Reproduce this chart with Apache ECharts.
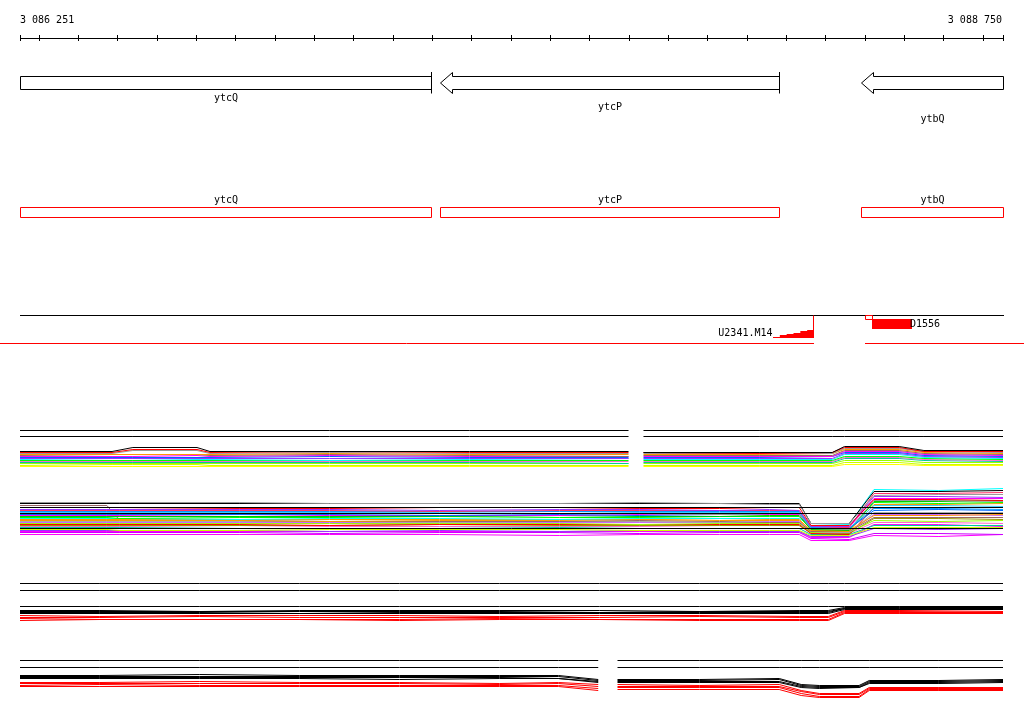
<!DOCTYPE html>
<html><head><meta charset="utf-8">
<script src="https://cdn.jsdelivr.net/npm/echarts@6/dist/echarts.min.js"></script>
<style>html,body{margin:0;padding:0;background:#fff}#c{width:1024px;height:714px}</style>
</head><body><div id="c"></div>
<script>
// ---------- genomic window ----------
const X_MIN = 3086251, X_MAX = 3088750;
const tickValues = [3086251,3086300,3086400,3086500,3086600,3086700,3086800,3086900,3087000,3087100,3087200,3087300,3087400,3087500,3087600,3087700,3087800,3087900,3088000,3088100,3088200,3088300,3088400,3088500,3088600,3088700,3088750];
const endLabels = [3086251, 3088750];

// ---------- genes (minus strand) ----------
const geneNames = ['ytcQ','ytcP','ytbQ'];
const geneStart = [3085400, 3087320, 3088390];
const geneEnd   = [3087298, 3088182, 3089300];
const geneLabelRow = [0, 1, 2];

// ---------- features ----------
const featNames = ['U2341.M14','D1556'];
const featStart = [3088166, 3088400];
const featEnd   = [3088268, 3088519];
const featType  = ['ramp','block'];
const sepStart = [3086200, 3088400];
const sepEnd   = [3088268, 3088802];

// ---------- track A (gap at index 8) ----------
const A_x = [3086251,3086485,3086538,3086701,3086734,3087038,3087394,3087798,3087815,3087836,3088130,3088316,3088347,3088486,3088549,3088750];
const A_ref = [40, 34];
const A_black  = [19,19,23,23,19,19,19,19,null,18,18,18,24,24,20,20];
const A_red    = [18,18,21,21,18,19,18,18,null,18,17,18,23,23,19,19];
const A_gray   = [17,17,20,20,17,18,17,17,null,17,17,17,22,22,19,18];
const A_orange = [16,16,16,16,16,17,16,16,null,16,16,17,21,21,18,17];
const A_brown  = [15,16,16,16,15,16,15,14,null,15,15,15,20,20,17,16];
const A_magenta= [14,14,14,15,14,15,14,14,null,14,14,14,19,19,16,15];
const A_blue   = [13,13,13,13,13,14,13,13,null,13,13,14,18,18,15,14];
const A_purple = [12,12,12,12,12,12,12,12,null,12,12,12,17,17,14,13];
const A_cyan   = [11,12,12,11,11,10,11,12,null,11,11,11,16,16,13,12];
const A_green  = [10,10,10,10,10,10,10,10,null,10,10,10,14,14,12,11];
const A_pink   = [9,9,9,9,9,9,9,9,null,9,9,9,13,13,11,10];
const A_teal   = [8,8,8,8,8,8,8,7,null,8,8,8,12,12,10,9];
const A_lime   = [7,7,7,7,7,7,7,7,null,7,7,7,10,10,8,8];
const A_ygreen = [5,6,6,6,5,5,5,5,null,5,5,5,8,8,6,6];
const A_yellow = [4,4,4,4,4,4,4,4,null,4,4,4,6,6,5,5];

// ---------- track B ----------
const B_x = [3086251,3086472,3086505,3086810,3087038,3087318,3087622,3087825,3088029,3088156,3088232,3088262,3088359,3088422,3088587,3088750];
const B_ref = [38, 32, 17];
const B_gray    = [43,43,43,43,42,42,42,43,42,41,41,22,22,50,51,51];
const B_black   = [42,42,42,42,42,42,42,42,42,42,42,22,22,54,54,55];
const B_red     = [38,38,38,37,37,38,38,37,37,38,38,20,20,46,46,45];
const B_purple  = [36,36,36,36,36,35,36,36,35,36,35,19,19,49,49,48];
const B_rose    = [35,35,35,35,35,34,35,35,35,35,35,19,18,52,52,53];
const B_blue2   = [34,34,34,34,34,34,34,34,34,34,34,18,17,37,37,36];
const B_ltblue  = [33,33,33,33,33,33,32,33,33,33,33,18,17,40,40,39];
const B_gray3   = [32,32,32,32,32,32,32,32,31,32,32,17,16,45,45,44];
const B_blue    = [31,31,31,31,31,30,31,30,31,32,32,17,17,35,36,35];
const B_magenta = [30,30,30,31,30,30,30,31,32,31,31,18,18,47,47,47];
const B_green2  = [29,29,29,29,29,29,30,29,29,30,30,16,15,44,44,45];
const B_green   = [28,28,27,28,28,29,28,28,29,29,29,16,16,43,42,43];
const B_cyan    = [27,27,27,26,27,27,26,27,27,27,27,20,21,56,55,57];
const B_orange2 = [26,26,26,26,26,26,26,26,27,26,26,15,14,41,41,42];
const B_orange  = [25,25,25,25,24,25,25,26,25,25,25,15,15,30,30,31];
const B_brown   = [40,40,25,25,24,24,24,25,24,23,23,14,14,28,28,28];
const B_gray2   = [24,24,24,24,24,23,24,24,23,23,23,14,13,33,33,33];
const B_lavender= [23,23,23,23,23,23,23,23,23,24,24,14,13,31,31,30];
const B_lime    = [22,22,22,22,22,22,22,21,22,22,22,13,13,25,24,25];
const B_red2    = [21,21,21,21,20,21,21,21,21,21,21,12,11,38,38,38];
const B_olive   = [20,20,20,20,20,21,20,20,20,20,20,13,12,27,27,26];
const B_pink    = [19,19,19,20,19,19,19,19,20,20,20,12,12,23,23,22];
const B_teal    = [18,18,18,17,17,17,18,17,17,17,17,11,11,20,20,20];
const B_yellow  = [16,16,15,15,16,16,16,15,15,15,15,10,10,18,18,18];
const B_dkpurple= [15,15,15,15,14,15,14,15,14,14,14,9,9,17,16,17];
const B_magenta4= [14,14,14,14,14,14,14,14,14,14,14,8,8,21,21,19];
const B_magenta2= [13,13,13,13,12,13,13,12,13,13,13,7,6,12,12,11];
const B_magenta3= [11,11,11,11,11,11,10,11,11,11,11,5,5,10,9,11];

// ---------- track C ----------
const C_x = [3086251,3086454,3086708,3086962,3087216,3087470,3087724,3087978,3088232,3088306,3088347,3088486,3088750];
const C_ref = [42, 35, 19];
const C_black1 = [15,15,14,15,15,15,15,14,15,15,18,18,18];
const C_black2 = [14,14,14,14,14,14,13,14,14,14,17,17,17];
const C_black3 = [13,13,13,12,13,13,13,13,13,13,17,16,16];
const C_black4 = [12,12,12,12,12,12,12,12,12,12,16,16,16];
const C_red1   = [10,9,10,10,10,9,10,10,9,9,15,15,14];
const C_red2   = [8,8,9,8,8,8,8,9,8,8,14,14,13];
const C_red3   = [7,6,6,6,6,7,6,6,6,6,13,13,13];
const C_red4   = [5,6,6,6,5,6,6,5,5,5,12,12,12];

// ---------- track D (gap at index 8) ----------
const D_x = [3086251,3086454,3086708,3086962,3087216,3087470,3087620,3087721,3087744,3087770,3087978,3088181,3088237,3088283,3088384,3088410,3088587,3088750];
const D_ref = [40, 33];
const D_black1 = [25,25,26,25,25,25,25,21,null,21,21,22,16,15,15,20,20,21];
const D_black2 = [24,24,24,24,24,24,24,20,null,20,20,21,15,14,14,19,19,20];
const D_black3 = [23,23,23,23,23,23,22,19,null,19,19,19,14,13,13,18,18,19];
const D_black4 = [22,22,22,22,21,22,22,18,null,18,18,18,13,12,13,17,17,18];
const D_red1   = [18,18,19,18,18,17,18,16,null,16,15,16,10,7,7,13,13,13];
const D_red2   = [17,17,17,17,17,16,17,14,null,14,14,14,9,6,6,12,12,12];
const D_red3   = [15,16,15,15,15,15,15,12,null,13,13,13,7,4,4,11,11,11];
const D_red4   = [14,14,14,14,14,14,14,10,null,11,11,11,5,3,3,10,10,10];

// ---------- styling ----------
const FONT = '10px "DejaVu Sans Mono"';
const crisp = v => Math.floor(v) + 0.5;
const fmt = v => String(v).replace(/\B(?=(\d{3})+(?!\d))/g, ' ');
const LABEL_OFFSETS = [8.5, 17.5, 29.5];

const grids = [
  {top: 28.5, height: 20},   // 0 ruler
  {top: 76.5, height: 13},   // 1 genes
  {top: 207.5, height: 10},  // 2 gene boxes
  {top: 315.5, height: 23},  // 3 features
  {top: 420.5, height: 50},  // 4 track A
  {top: 485.5, height: 60},  // 5 track B
  {top: 575.5, height: 50},  // 6 track C
  {top: 650.5, height: 50}   // 7 track D
].map(g => Object.assign({left: 20, right: 21, containLabel: false}, g));
const yRanges = [[-1,1],[0,1],[0,1],[0,1],[0,50],[0,60],[0,50],[0,50]];

const xAxes = grids.map((g,i) => ({type:'value', gridIndex:i, min:X_MIN, max:X_MAX, show:false}));
const yAxes = grids.map((g,i) => ({type:'value', gridIndex:i, min:yRanges[i][0], max:yRanges[i][1], show:false}));

const series = [];

// ruler line
series.push({type:'custom', xAxisIndex:0, yAxisIndex:0, silent:true, data:[[X_MIN, X_MAX]],
  renderItem:(p, api) => {
    const a = api.coord([api.value(0), 0]), b = api.coord([api.value(1), 0]);
    return {type:'line', shape:{x1:Math.floor(a[0]), y1:a[1], x2:Math.floor(b[0])+1, y2:b[1]}, style:{stroke:'#000', lineWidth:1}};
  }});
// ruler ticks
series.push({type:'custom', xAxisIndex:0, yAxisIndex:0, silent:true, data:tickValues.map(v=>[v]),
  renderItem:(p, api) => {
    const c = api.coord([api.value(0), 0]);
    const x = crisp(c[0]);
    return {type:'line', shape:{x1:x, y1:c[1]-3.5, x2:x, y2:c[1]+2.5}, style:{stroke:'#000', lineWidth:1}};
  }});
// ruler end labels
series.push({type:'custom', xAxisIndex:0, yAxisIndex:0, silent:true, data:endLabels.map(v=>[v]),
  renderItem:(p, api) => {
    const v = api.value(0);
    const c = api.coord([v, 0]);
    const first = p.dataIndex === 0;
    return {type:'text', style:{text: fmt(v), x: first ? c[0] : c[0]-1, y: c[1]-18.5, font: FONT, fill:'#000',
      textAlign: first ? 'left' : 'right', textVerticalAlign:'middle'}};
  }});

// genes with arrows
series.push({type:'custom', xAxisIndex:1, yAxisIndex:1, silent:true,
  data: geneNames.map((n,i)=>[geneStart[i], geneEnd[i], geneLabelRow[i]]),
  renderItem:(p, api) => {
    const i = p.dataIndex;
    const s = api.value(0), e = api.value(1), row = api.value(2);
    const yT = api.coord([X_MIN, 1])[1], yB = api.coord([X_MIN, 0])[1], yC = (yT+yB)/2;
    const xL = api.coord([X_MIN,0])[0], xR = api.coord([X_MAX,0])[0];
    const tipVis = s >= X_MIN, endVis = e <= X_MAX;
    const xs = crisp(Math.max(api.coord([s,0])[0], xL));
    const xe = crisp(Math.min(api.coord([e,0])[0], xR));
    const children = [];
    let pts;
    if (tipVis) {
      const h = xs + 12;
      pts = [[xs,yC],[h,yT-4],[h,yT],[xe,yT],[xe,yB],[h,yB],[h,yB+4]];
    } else {
      pts = [[xs,yT],[xe,yT],[xe,yB],[xs,yB]];
    }
    children.push({type:'polygon', shape:{points:pts}, style:{fill:'#fff', stroke:'#000', lineWidth:1}});
    if (endVis) children.push({type:'line', shape:{x1:xe,y1:yT-4.5,x2:xe,y2:yB+4}, style:{stroke:'#000', lineWidth:1}});
    children.push({type:'text', style:{text: geneNames[i], x:(xs+xe)/2, y: yB + LABEL_OFFSETS[row], font: FONT, fill:'#000', textAlign:'center', textVerticalAlign:'middle'}});
    return {type:'group', children};
  }});

// gene boxes track
series.push({type:'custom', xAxisIndex:2, yAxisIndex:2, silent:true,
  data: geneNames.map((n,i)=>[geneStart[i], geneEnd[i]]),
  renderItem:(p, api) => {
    const i = p.dataIndex;
    const yT = api.coord([X_MIN, 1])[1], yB = api.coord([X_MIN, 0])[1];
    const xL = api.coord([X_MIN,0])[0], xR = api.coord([X_MAX,0])[0];
    const xs = crisp(Math.max(api.coord([api.value(0),0])[0], xL));
    const xe = crisp(Math.min(api.coord([api.value(1),0])[0], xR));
    return {type:'group', children:[
      {type:'rect', shape:{x:xs, y:yT, width:xe-xs, height:yB-yT}, style:{fill:'#fff', stroke:'#ff0000', lineWidth:1}},
      {type:'text', style:{text: geneNames[i], x:(xs+xe)/2, y: yT-7, font: FONT, fill:'#000', textAlign:'center', textVerticalAlign:'middle'}}
    ]};
  }});

// features baseline
series.push({type:'custom', xAxisIndex:3, yAxisIndex:3, silent:true, data:[[X_MIN, X_MAX]],
  renderItem:(p, api) => {
    const a = api.coord([api.value(0), 1]), b = api.coord([api.value(1), 1]);
    return {type:'line', shape:{x1:Math.floor(a[0]), y1:a[1], x2:Math.floor(b[0])+1, y2:b[1]}, style:{stroke:'#000', lineWidth:1}};
  }});
// separator
series.push({type:'custom', xAxisIndex:3, yAxisIndex:3, silent:true, clip:false,
  data: sepStart.map((s,i)=>[s, sepEnd[i]]),
  renderItem:(p, api) => {
    const a = api.coord([api.value(0), 0]), b = api.coord([api.value(1), 0]);
    const y = a[1] + 5;
    return {type:'line', shape:{x1:Math.floor(a[0]), y1:y, x2:Math.floor(b[0])+1, y2:y}, style:{stroke:'#ff0000', lineWidth:1}};
  }});
// features
series.push({type:'custom', xAxisIndex:3, yAxisIndex:3, silent:true,
  data: featNames.map((n,i)=>[featStart[i], featEnd[i]]),
  renderItem:(p, api) => {
    const i = p.dataIndex;
    const yT = api.coord([X_MIN, 1])[1], yB = api.coord([X_MIN, 0])[1];
    const xs = Math.floor(api.coord([api.value(0),0])[0]);
    const xe = Math.floor(api.coord([api.value(1),0])[0]);
    const ch = [];
    if (featType[i] === 'ramp') {
      const bottom = Math.floor(yB), top = bottom - 8;
      const steps = 6, pts = [[xs, bottom]];
      for (let k = 0; k < steps; k++) {
        const x0 = xs + (xe + 1 - xs) * k / steps;
        const hy = bottom - (bottom - top) * (k + 1) / steps;
        pts.push([x0, Math.round(hy)]);
        pts.push([xs + (xe + 1 - xs) * (k + 1) / steps, Math.round(hy)]);
      }
      pts.push([xe + 1, bottom]);
      ch.push({type:'polygon', shape:{points:pts}, style:{fill:'#ff0000'}});
      ch.push({type:'line', shape:{x1:xe+0.5, y1:yT, x2:xe+0.5, y2:bottom}, style:{stroke:'#ff0000', lineWidth:1}});
      ch.push({type:'text', style:{text: featNames[i], x: xs - 0.5, y: yB - 5.5, font: FONT, fill:'#000', textAlign:'right', textVerticalAlign:'middle'}});
    } else {
      ch.push({type:'rect', shape:{x:xs+0.5, y:yT, width:7, height:4}, style:{fill:'none', stroke:'#ff0000', lineWidth:1}});
      ch.push({type:'rect', shape:{x:xs+7, y:Math.floor(yT)+4, width:xe-xs-7, height:10}, style:{fill:'#ff0000'}});
      ch.push({type:'text', style:{text: featNames[i], x: xe - 2, y: Math.floor(yT) + 9, font: FONT, fill:'#000', textAlign:'left', textVerticalAlign:'middle'}});
    }
    return {type:'group', children: ch};
  }});

// ---------- expression tracks ----------
function addLine(gi, xs, ys, color) {
  series.push({type:'line', xAxisIndex:gi, yAxisIndex:gi, data: xs.map((x,i)=>[x, ys[i]]),
    symbol:'none', showSymbol:false, connectNulls:false, silent:true, animation:false,
    lineStyle:{color, width:1}, emphasis:{disabled:true}});
}
function addRefs(gi, xs, template, levels) {
  levels.forEach(l => addLine(gi, xs, template.map(v => v === null ? null : l), '#000000'));
}

const C = {black:'#000000', red:'#ff0000', gray:'#999999', orange:'#ff9900', brown:'#996666', magenta:'#ff00ff',
  blue:'#0066ff', purple:'#9933ff', cyan:'#00ffff', green:'#00ff00', pink:'#ff66cc', teal:'#00cc99',
  lime:'#99ff00', ygreen:'#ccff00', yellow:'#ffff00', dkpurple:'#cc00ff', ltblue:'#33ccff', olive:'#999900',
  gray2:'#aaaaaa', rose:'#ff3366', blue2:'#0099ff', green2:'#00cc00', lavender:'#cc66ff'};

// track A
addRefs(4, A_x, A_black, A_ref);
[[A_yellow,C.yellow],[A_ygreen,C.ygreen],[A_lime,C.lime],[A_teal,C.teal],[A_pink,C.pink],[A_green,C.green],
 [A_cyan,C.cyan],[A_purple,C.purple],[A_blue,C.blue],[A_magenta,C.magenta],[A_brown,C.brown],[A_orange,C.orange],
 [A_gray,C.gray],[A_red,C.red],[A_black,C.black]].forEach(([d,c]) => addLine(4, A_x, d, c));

// track B
[[B_magenta3,C.magenta],[B_magenta2,C.dkpurple],[B_magenta4,C.magenta],[B_dkpurple,C.purple],[B_yellow,C.ygreen],[B_teal,C.teal],
 [B_pink,C.pink],[B_olive,C.olive],[B_red2,C.red],[B_lime,C.lime],[B_lavender,C.lavender],[B_gray2,C.gray2],[B_brown,C.brown],
 [B_orange,C.orange],[B_orange2,C.orange],[B_cyan,C.cyan],[B_green,C.green],[B_green2,C.green2],[B_magenta,C.magenta],
 [B_blue,C.blue],[B_gray3,C.gray],[B_ltblue,C.ltblue],[B_blue2,C.blue2],[B_rose,C.rose],
 [B_purple,C.purple],[B_red,C.red],[B_black,C.black],[B_gray,C.gray]].forEach(([d,c]) => addLine(5, B_x, d, c));
addRefs(5, [X_MIN, X_MAX], [0, 0], B_ref);

// track C
addRefs(6, C_x, C_black1, C_ref);
[[C_red4,C.red],[C_red3,C.red],[C_red2,C.red],[C_red1,C.red],[C_black4,C.black],[C_black3,C.black],
 [C_black2,C.black],[C_black1,C.black]].forEach(([d,c]) => addLine(6, C_x, d, c));

// track D
addRefs(7, D_x, D_black1, D_ref);
[[D_red4,C.red],[D_red3,C.red],[D_red2,C.red],[D_red1,C.red],[D_black4,C.black],[D_black3,C.black],
 [D_black2,C.black],[D_black1,C.black]].forEach(([d,c]) => addLine(7, D_x, d, c));

const chart = echarts.init(document.getElementById('c'), null, {renderer:'canvas'});
chart.setOption({animation:false, backgroundColor:'#fff', grid:grids, xAxis:xAxes, yAxis:yAxes, series});
</script></body></html>
